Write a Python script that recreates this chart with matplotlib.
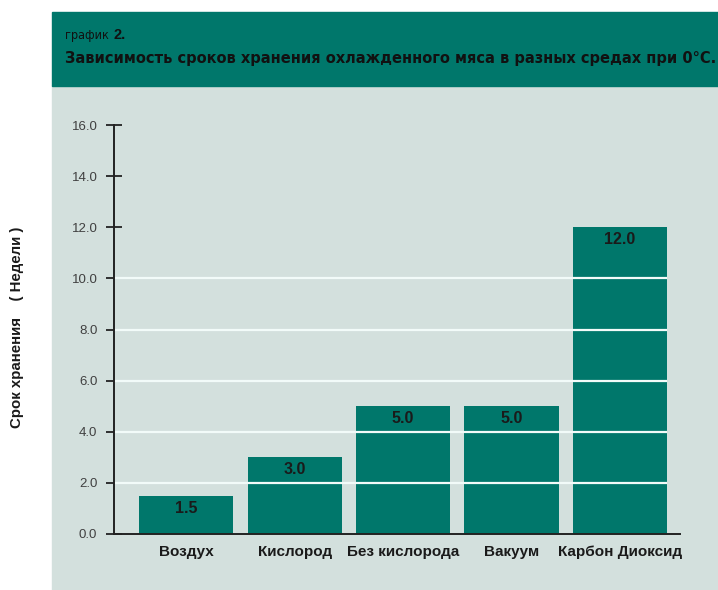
import matplotlib
matplotlib.use("Agg")
import matplotlib.pyplot as plt
from matplotlib.patches import Rectangle

# Data: storage life of chilled meat in different atmospheres at 0 °C
categories = ["Воздух", "Кислород", "Без кислорода", "Вакуум", "Карбон Диоксид"]
weeks = [1.5, 3.0, 5.0, 5.0, 12.0]
y_ticks = [0, 2, 4, 6, 8, 10, 12, 14, 16]
grid_levels = [2, 4, 6, 8, 10]

title_small = "график"
title_num = "2."
title_main = "Зависимость сроков хранения охлажденного мяса в разных средах при 0°С."
y_label = "Срок хранения    ( Недели )"

TEAL = "#00776b"
PANEL = "#d3e0dd"

plt.rcParams["font.family"] = ["Liberation Sans", "DejaVu Sans"]

fig = plt.figure(figsize=(7.18, 5.90), dpi=100)
W, H = 718, 590

# light panel behind the plot and the teal title banner
fig.patches.append(Rectangle((52 / W, 0), 1 - 52 / W, (590 - 85) / H,
                             transform=fig.transFigure, color=PANEL, zorder=0))
fig.patches.append(Rectangle((52 / W, (590 - 86) / H), 1 - 52 / W, 74 / H,
                             transform=fig.transFigure, color=TEAL, zorder=0))

small = fig.text(65 / W, 1 - 36 / H, title_small, fontsize=9, color="#111111",
                 family=["DejaVu Sans"], stretch="condensed", va="center")
fig.canvas.draw()
bb = small.get_window_extent()
fig.text((bb.x1 + 5) / W, 1 - 35 / H, title_num, fontsize=10.5, color="#111111",
         fontweight="bold", va="center")
main = fig.text(65 / W, 1 - 58 / H, title_main, fontsize=11.8, color="#111111",
                fontweight="bold", family=["DejaVu Sans"], stretch="condensed",
                va="center")
# keep the headline inside the banner
fig.canvas.draw()
mb = main.get_window_extent()
if mb.x1 > 714:
    main.set_fontsize(11.8 * (714 - mb.x0) / (mb.x1 - mb.x0))

fig.text(17 / W, 1 - 327 / H, y_label, rotation=90, fontsize=10.8,
         fontweight="bold", color="#1a1a1a", ha="center", va="center")

ax = fig.add_axes([114 / W, 56 / H, (680 - 114) / W, (534 - 125) / H])
ax.set_zorder(2)
ax.set_facecolor("none")

x = list(range(len(categories)))
ax.bar(x, weeks, width=0.87, color=TEAL, zorder=2)

ax.set_xlim(-0.667, 4.556)
ax.set_ylim(0, 16)

# white grid drawn across the bars
ax.hlines(grid_levels, -0.667, 4.44, colors="#f2fbf9", linewidth=1.6, zorder=3)

for xi, v in zip(x, weeks):
    ax.annotate(f"{v:.1f}", (xi, v), xytext=(0, -9), textcoords="offset points",
                ha="center", va="center", fontsize=11.5, fontweight="bold",
                color="#1a1a1a", zorder=4)

ax.set_yticks(y_ticks)
ax.set_yticklabels([f"{t:.1f}" for t in y_ticks], fontsize=9.5, color="#404040")
ax.tick_params(axis="y", direction="inout", length=12, width=1.3, pad=6,
               color="#222222")
ax.set_xticks(x)
ax.set_xticklabels(categories, fontsize=11, fontweight="bold", color="#1a1a1a")
ax.tick_params(axis="x", length=0, pad=8)

for side in ("top", "right"):
    ax.spines[side].set_visible(False)
for side in ("left", "bottom"):
    ax.spines[side].set_color("#222222")
    ax.spines[side].set_linewidth(1.4)
    ax.spines[side].set_zorder(5)

fig.savefig("out.png", dpi=100, facecolor="white")
